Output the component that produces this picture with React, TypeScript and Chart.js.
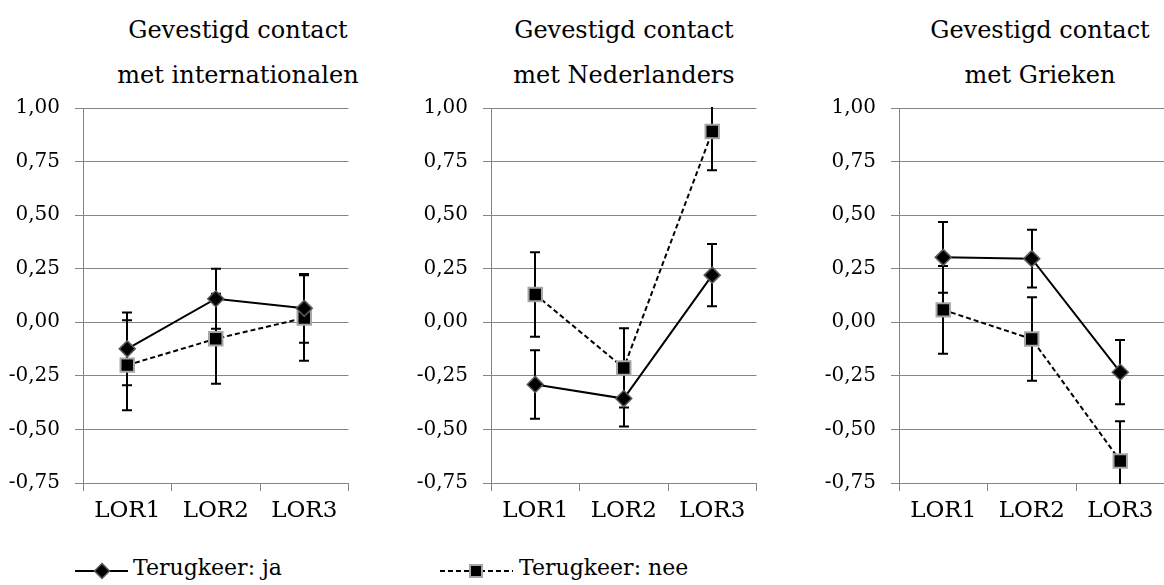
import React, { useEffect, useRef } from 'react';
import { Chart, registerables } from 'chart.js';

Chart.register(...registerables);

// ---------- data ----------
const CATEGORIES = ['LOR1', 'LOR2', 'LOR3'];
const Y_MIN = -0.75;
const Y_MAX = 1.0;
const Y_STEP = 0.25;
const SERIES_NAMES = ['Terugkeer: ja', 'Terugkeer: nee'];

const TITLE_INTERNATIONALEN = ['Gevestigd contact', 'met internationalen'];
const TITLE_NEDERLANDERS = ['Gevestigd contact', 'met Nederlanders'];
const TITLE_GRIEKEN = ['Gevestigd contact', 'met Grieken'];

// means and +/- error half-widths
const JA_INTERNATIONALEN = [-0.124, 0.11, 0.065];
const JA_INTERNATIONALEN_ERR = [0.17, 0.14, 0.16];
const NEE_INTERNATIONALEN = [-0.2, -0.077, 0.02];
const NEE_INTERNATIONALEN_ERR = [0.21, 0.21, 0.2];

const JA_NEDERLANDERS = [-0.29, -0.356, 0.22];
const JA_NEDERLANDERS_ERR = [0.16, 0.13, 0.145];
const NEE_NEDERLANDERS = [0.13, -0.213, 0.89];
const NEE_NEDERLANDERS_ERR = [0.197, 0.185, 0.18];

const JA_GRIEKEN = [0.303, 0.297, -0.233];
const JA_GRIEKEN_ERR = [0.165, 0.135, 0.15];
const NEE_GRIEKEN = [0.058, -0.078, -0.647];
const NEE_GRIEKEN_ERR = [0.205, 0.195, 0.185];

// ---------- styling ----------
const FONT = '"DejaVu Serif", "Liberation Serif", serif';
const GRID = '#868686';
const JA_BORDER = '#595959';
const NEE_BORDER = '#a6a6a6';

const errorBarPlugin = {
  id: 'errorBars',
  beforeDatasetsDraw(chart: any) {
    const { ctx, chartArea } = chart;
    const y = chart.scales.y;
    ctx.save();
    ctx.beginPath();
    ctx.rect(chartArea.left, chartArea.top - 1, chartArea.right - chartArea.left, chartArea.bottom - chartArea.top + 2);
    ctx.clip();
    ctx.strokeStyle = '#000';
    ctx.lineWidth = 2;
    chart.data.datasets.forEach((ds: any, di: number) => {
      const errs = ds.errorBars as number[] | undefined;
      if (!errs) return;
      const meta = chart.getDatasetMeta(di);
      meta.data.forEach((pt: any, i: number) => {
        const v = ds.data[i] as number;
        const e = errs[i];
        const x = Math.round(pt.x);
        const hi = v + e;
        const lo = v - e;
        const top = y.getPixelForValue(Math.min(hi, Y_MAX + 0.01));
        const bot = y.getPixelForValue(Math.max(lo, Y_MIN - 0.01));
        ctx.beginPath();
        ctx.moveTo(x, top);
        ctx.lineTo(x, bot);
        if (hi <= Y_MAX) {
          ctx.moveTo(x - 5, top);
          ctx.lineTo(x + 5, top);
        }
        if (lo >= Y_MIN) {
          ctx.moveTo(x - 5, bot);
          ctx.lineTo(x + 5, bot);
        }
        ctx.stroke();
      });
    });
    ctx.restore();
  },
};

const fmt = (v: number) => {
  const n = Math.abs(v) < 1e-9 ? 0 : v;
  return n.toFixed(2).replace('.', ',');
};

type PanelProps = {
  left: number;
  titleCenter: number;
  title: string[];
  ja: number[];
  jaErr: number[];
  nee: number[];
  neeErr: number[];
};

function Panel({ left, titleCenter, title, ja, jaErr, nee, neeErr }: PanelProps) {
  const ref = useRef<HTMLCanvasElement>(null);
  useEffect(() => {
    const chart = new Chart(ref.current as HTMLCanvasElement, {
      type: 'line',
      data: {
        labels: CATEGORIES,
        datasets: [
          {
            label: SERIES_NAMES[0],
            data: ja,
            errorBars: jaErr,
            borderColor: '#000',
            borderWidth: 2,
            pointStyle: 'rectRot',
            pointRadius: 8,
            pointBackgroundColor: '#000',
            pointBorderColor: JA_BORDER,
            pointBorderWidth: 1.5,
            tension: 0,
            fill: false,
          } as any,
          {
            label: SERIES_NAMES[1],
            data: nee,
            errorBars: neeErr,
            borderColor: '#000',
            borderWidth: 2,
            borderDash: [5, 3],
            pointStyle: 'rect',
            pointRadius: 9.5,
            pointBackgroundColor: '#000',
            pointBorderColor: NEE_BORDER,
            pointBorderWidth: 2,
            tension: 0,
            fill: false,
          } as any,
        ],
      },
      options: {
        responsive: false,
        animation: false,
        events: [],
        layout: { padding: { top: 0, right: 9, bottom: 0, left: 0 } },
        plugins: {
          legend: { display: false },
          tooltip: { enabled: false },
          title: { display: false },
        },
        scales: {
          x: {
            type: 'category',
            offset: true,
            grid: {
              offset: true,
              drawOnChartArea: false,
              drawTicks: true,
              tickLength: 8,
              color: GRID,
              lineWidth: 1,
            },
            border: { display: true, color: GRID, width: 1 },
            ticks: {
              font: { family: FONT, size: 23 },
              color: '#000',
              padding: 6,
              maxRotation: 0,
              autoSkip: false,
            },
            afterFit: (s: any) => {
              s.height = 45;
            },
          },
          y: {
            type: 'linear',
            min: Y_MIN,
            max: Y_MAX,
            ticks: {
              stepSize: Y_STEP,
              callback: (v: any) => fmt(Number(v)),
              font: { family: FONT, size: 20 },
              color: '#000',
              padding: 15,
            },
            grid: { color: GRID, lineWidth: 1, tickLength: 8, drawTicks: true },
            border: { display: true, color: GRID, width: 1 },
            afterFit: (s: any) => {
              s.width = 83;
            },
          },
        },
      } as any,
      plugins: [errorBarPlugin],
    });
    return () => chart.destroy();
  }, []);

  return (
    <>
      <div
        style={{
          position: 'absolute',
          left: titleCenter - 200,
          top: 8,
          width: 400,
          textAlign: 'center',
          fontFamily: FONT,
          fontSize: 24,
          lineHeight: '45px',
          color: '#000',
          whiteSpace: 'nowrap',
        }}
      >
        {title[0]}
        <br />
        {title[1]}
      </div>
      <canvas
        ref={ref}
        width={360}
        height={447}
        style={{ position: 'absolute', left, top: 81, width: 360, height: 447 }}
      />
    </>
  );
}

function LegendSymbolJa() {
  return (
    <svg width={60} height={20} style={{ position: 'absolute', left: 72, top: 561 }}>
      <line x1={3} y1={10} x2={56} y2={10} stroke="#000" strokeWidth={2} />
      <polygon points="30,2.5 37.5,10 30,17.5 22.5,10" fill="#000" stroke={JA_BORDER} strokeWidth={1.5} />
    </svg>
  );
}

function LegendSymbolNee() {
  return (
    <svg width={80} height={20} style={{ position: 'absolute', left: 437, top: 561 }}>
      <line x1={3} y1={10} x2={76} y2={10} stroke="#000" strokeWidth={2} strokeDasharray="5 3" />
      <rect x={33} y={4} width={12} height={12} fill="#000" stroke={NEE_BORDER} strokeWidth={2} />
    </svg>
  );
}

export default function App() {
  const legendText: React.CSSProperties = {
    position: 'absolute',
    top: 557,
    fontFamily: FONT,
    fontSize: 22,
    lineHeight: '22px',
    color: '#000',
    whiteSpace: 'nowrap',
  };
  return (
    <div
      style={{
        position: 'absolute',
        left: 0,
        top: 0,
        width: 1164,
        height: 585,
        overflow: 'hidden',
        background: '#fff',
      }}
    >
      <Panel
        left={0}
        titleCenter={238}
        title={TITLE_INTERNATIONALEN}
        ja={JA_INTERNATIONALEN}
        jaErr={JA_INTERNATIONALEN_ERR}
        nee={NEE_INTERNATIONALEN}
        neeErr={NEE_INTERNATIONALEN_ERR}
      />
      <Panel
        left={408}
        titleCenter={624}
        title={TITLE_NEDERLANDERS}
        ja={JA_NEDERLANDERS}
        jaErr={JA_NEDERLANDERS_ERR}
        nee={NEE_NEDERLANDERS}
        neeErr={NEE_NEDERLANDERS_ERR}
      />
      <Panel
        left={816}
        titleCenter={1040}
        title={TITLE_GRIEKEN}
        ja={JA_GRIEKEN}
        jaErr={JA_GRIEKEN_ERR}
        nee={NEE_GRIEKEN}
        neeErr={NEE_GRIEKEN_ERR}
      />
      <LegendSymbolJa />
      <div style={{ ...legendText, left: 133 }}>{SERIES_NAMES[0]}</div>
      <LegendSymbolNee />
      <div style={{ ...legendText, left: 519 }}>{SERIES_NAMES[1]}</div>
    </div>
  );
}
